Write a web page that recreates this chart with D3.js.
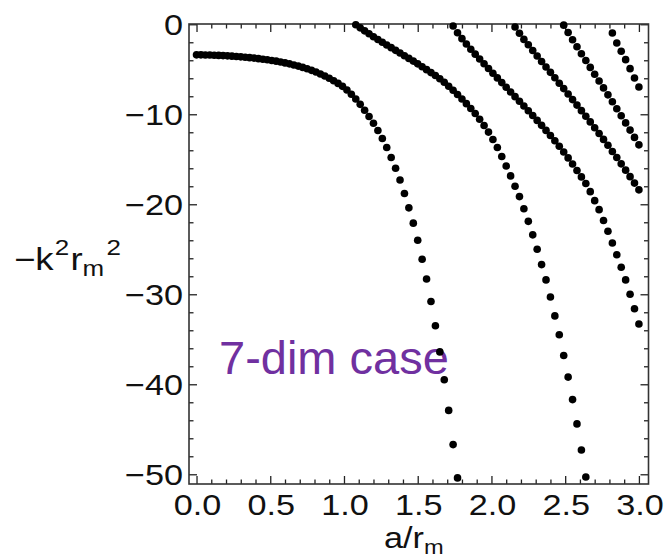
<!DOCTYPE html>
<html>
<head>
<meta charset="utf-8">
<script src="https://cdn.jsdelivr.net/npm/d3@7"></script>
<style>
body{margin:0;background:#fff}
svg{display:block}
text{font-family:"Liberation Sans",Arial,sans-serif}
</style>
</head>
<body>
<svg></svg>
<script>
// points: [a/rm , -k^2 rm^2]
const curveA=[[0.00,-3.40],[0.03,-3.40],[0.06,-3.41],[0.09,-3.42],[0.12,-3.44],[0.15,-3.46],[0.18,-3.48],[0.21,-3.51],[0.24,-3.54],[0.27,-3.58],[0.30,-3.62],[0.33,-3.66],[0.36,-3.71],[0.39,-3.76],[0.42,-3.82],[0.45,-3.88],[0.48,-3.95],[0.51,-4.02],[0.54,-4.10],[0.57,-4.19],[0.60,-4.29],[0.63,-4.40],[0.66,-4.52],[0.69,-4.65],[0.72,-4.79],[0.75,-4.95],[0.78,-5.12],[0.81,-5.31],[0.84,-5.52],[0.87,-5.75],[0.90,-6.00],[0.93,-6.27],[0.96,-6.57],[0.99,-6.90],[1.02,-7.30],[1.05,-7.78],[1.08,-8.30],[1.11,-8.90],[1.14,-9.55],[1.17,-10.25],[1.20,-11.0],[1.23,-11.8],[1.26,-12.7],[1.29,-13.7],[1.32,-14.8],[1.35,-16.0],[1.38,-17.3],[1.41,-18.8],[1.44,-20.4],[1.47,-22.1],[1.50,-24.0],[1.53,-26.1],[1.56,-28.3],[1.59,-30.8],[1.62,-33.5],[1.65,-36.4],[1.68,-39.5],[1.71,-42.9],[1.74,-46.7],[1.77,-50.4]]
const curveB=[[1.08,-0.05],[1.11,-0.40],[1.14,-0.73],[1.17,-1.06],[1.20,-1.38],[1.23,-1.69],[1.26,-2.00],[1.29,-2.30],[1.32,-2.60],[1.35,-2.90],[1.38,-3.20],[1.41,-3.49],[1.44,-3.79],[1.47,-4.09],[1.50,-4.40],[1.53,-4.72],[1.56,-5.04],[1.59,-5.37],[1.62,-5.70],[1.65,-6.05],[1.68,-6.45],[1.71,-6.88],[1.74,-7.33],[1.77,-7.80],[1.80,-8.30],[1.83,-8.82],[1.86,-9.36],[1.89,-9.92],[1.92,-10.55],[1.95,-11.25],[1.98,-11.98],[2.01,-12.80],[2.04,-13.70],[2.07,-14.70],[2.10,-15.75],[2.13,-16.85],[2.16,-18.0],[2.19,-19.15],[2.22,-20.5],[2.25,-21.9],[2.28,-23.4],[2.31,-25.0],[2.34,-26.7],[2.37,-28.4],[2.40,-30.3],[2.43,-32.4],[2.46,-34.5],[2.49,-36.8],[2.52,-39.2],[2.55,-41.7],[2.58,-44.4],[2.61,-47.3],[2.64,-50.3]]
const curveC=[[1.74,-0.20],[1.77,-0.95],[1.80,-1.60],[1.83,-2.20],[1.86,-2.77],[1.89,-3.32],[1.92,-3.86],[1.95,-4.39],[1.98,-4.92],[2.01,-5.44],[2.04,-5.96],[2.07,-6.48],[2.10,-7.00],[2.13,-7.52],[2.16,-8.04],[2.19,-8.56],[2.22,-9.08],[2.25,-9.61],[2.28,-10.14],[2.31,-10.68],[2.34,-11.23],[2.37,-11.79],[2.40,-12.36],[2.43,-12.95],[2.46,-13.56],[2.49,-14.19],[2.52,-14.85],[2.55,-15.53],[2.58,-16.24],[2.61,-16.96],[2.64,-17.70],[2.67,-18.6],[2.70,-19.6],[2.73,-20.6],[2.76,-21.8],[2.79,-23.0],[2.82,-24.3],[2.85,-25.6],[2.88,-27.0],[2.91,-28.4],[2.94,-30.0],[2.97,-31.6],[3.00,-33.3]]
const curveD=[[2.16,-0.30],[2.19,-1.00],[2.22,-1.68],[2.25,-2.28],[2.28,-2.91],[2.31,-3.52],[2.34,-4.13],[2.37,-4.74],[2.40,-5.34],[2.43,-5.94],[2.46,-6.55],[2.49,-7.15],[2.52,-7.75],[2.55,-8.37],[2.58,-8.98],[2.61,-9.60],[2.64,-10.22],[2.67,-10.85],[2.70,-11.49],[2.73,-12.13],[2.76,-12.79],[2.79,-13.45],[2.82,-14.13],[2.85,-14.81],[2.88,-15.51],[2.91,-16.21],[2.94,-16.93],[2.97,-17.65],[3.00,-18.40]]
const curveE=[[2.49,-0.10],[2.52,-0.92],[2.55,-1.72],[2.58,-2.50],[2.61,-3.27],[2.64,-4.03],[2.67,-4.79],[2.70,-5.55],[2.73,-6.31],[2.76,-7.07],[2.79,-7.84],[2.82,-8.61],[2.85,-9.39],[2.88,-10.17],[2.91,-10.96],[2.94,-11.76],[2.97,-12.57],[3.00,-13.40]]
const curveF=[[2.82,-0.97],[2.85,-2.08],[2.88,-3.00],[2.91,-3.93],[2.94,-4.93],[2.97,-5.97],[3.00,-6.97]]

const xMajor=[0,0.5,1,1.5,2,2.5,3]
const xMinor=[0.1,0.2,0.3,0.4,0.6,0.7,0.8,0.9,1.1,1.2,1.3,1.4,1.6,1.7,1.8,1.9,2.1,2.2,2.3,2.4,2.6,2.7,2.8,2.9]
const xTickLabels=["0.0","0.5","1.0","1.5","2.0","2.5","3.0"]
const yMajor=[0,-10,-20,-30,-40,-50]
const yMinor=[-2,-4,-6,-8,-12,-14,-16,-18,-22,-24,-26,-28,-32,-34,-36,-38,-42,-44,-46,-48]
const yTickLabels=["0","\u221210","\u221220","\u221230","\u221240","\u221250"]

const svg=d3.select("svg")
svg
	.attr("width", 664)
	.attr("height", 559)

// the reference is a soft, upscaled picture: blur the dots a little
svg.append("defs")
	.append("filter")
	.attr("id", "soft")
	.append("feGaussianBlur")
	.attr("stdDeviation", 0.75)

// the mathematica picture was stretched sideways, so its text is too
const sx=1.18

const scaleX=d3.scaleLinear()
	.domain([-0.051, 3.065])
	.range([189, 648.5])

const scaleY=d3.scaleLinear()
	.domain([-51.08, 0.03])
	.range([484, 24])

// ticks on all four sides, pointing in
const addTicks=function (axis, tr, values, len) {
	svg.append("g")
		.attr("transform", tr)
		.call(axis.tickValues(values).tickSize(-len).tickFormat(""))
		.call(g => g.select(".domain").remove())
		.call(g => g.selectAll("line").attr("stroke", "#222").attr("stroke-width", 1.3))
}
addTicks(d3.axisBottom(scaleX), "translate(0,484)", xMajor, 8)
addTicks(d3.axisBottom(scaleX), "translate(0,484)", xMinor, 4.5)
addTicks(d3.axisTop(scaleX), "translate(0,24)", xMajor, 8)
addTicks(d3.axisTop(scaleX), "translate(0,24)", xMinor, 4.5)
addTicks(d3.axisLeft(scaleY), "translate(189,0)", yMajor, 8)
addTicks(d3.axisLeft(scaleY), "translate(189,0)", yMinor, 4.5)
addTicks(d3.axisRight(scaleY), "translate(648.5,0)", yMajor, 8)
addTicks(d3.axisRight(scaleY), "translate(648.5,0)", yMinor, 4.5)

svg.append("rect")
	.attr("x", 189)
	.attr("y", 24)
	.attr("width", 459.5)
	.attr("height", 460)
	.attr("fill", "none")
	.attr("stroke", "#333")
	.attr("stroke-width", 1.6)

// tick labels
svg.selectAll("g.xlab")
	.data(xMajor)
	.enter()
	.append("g")
	.attr("class", "xlab")
	.attr("transform", (d, i) => `translate(${scaleX(d) + 1},515) scale(${sx},1)`)
	.append("text")
	.attr("text-anchor", "middle")
	.attr("font-size", 29)
	.attr("fill", "#111")
	.text((d, i) => xTickLabels[i])

svg.selectAll("g.ylab")
	.data(yMajor)
	.enter()
	.append("g")
	.attr("class", "ylab")
	.attr("transform", (d, i) => `translate(183,${scaleY(d) + 10.3}) scale(${sx},1)`)
	.append("text")
	.attr("text-anchor", "end")
	.attr("font-size", 29)
	.attr("fill", "#111")
	.text((d, i) => yTickLabels[i])

// axis titles
const xTitle=svg.append("g")
	.attr("transform", `translate(384,548) scale(${sx},1)`)
	.append("text")
	.attr("font-size", 29)
	.attr("fill", "#111")
xTitle.append("tspan").text("a/r")
xTitle.append("tspan").attr("font-size", 20).attr("dy", 6).text("m")

const yTitle=svg.append("g")
	.attr("transform", `translate(14,270) scale(${sx},1)`)
	.append("text")
	.attr("font-size", 31)
	.attr("fill", "#111")
yTitle.append("tspan").text("\u2212k")
yTitle.append("tspan").attr("font-size", 22).attr("dy", -15).attr("dx", 1).text("2")
yTitle.append("tspan").attr("dy", 15).attr("dx", 1).text("r")
yTitle.append("tspan").attr("font-size", 22).attr("dy", 6).text("m")
yTitle.append("tspan").attr("font-size", 22).attr("dy", -21).attr("dx", 2).text("2")

// annotation
svg.append("text")
	.attr("x", 219)
	.attr("y", 374)
	.attr("font-size", 47)
	.attr("fill", "#7030a0")
	.text("7-dim case")

// the dots
const curves=[curveA, curveB, curveC, curveD, curveE, curveF]
svg.append("g")
	.attr("filter", "url(#soft)")
	.selectAll("g.curve")
	.data(curves)
	.enter()
	.append("g")
	.attr("class", "curve")
	.selectAll("circle")
	.data(d => d)
	.enter()
	.append("circle")
	.attr("cx", (d, i) => scaleX(d[0]))
	.attr("cy", (d, i) => scaleY(d[1]))
	.attr("r", 3.8)
	.attr("fill", "#000")
</script>
</body>
</html>
